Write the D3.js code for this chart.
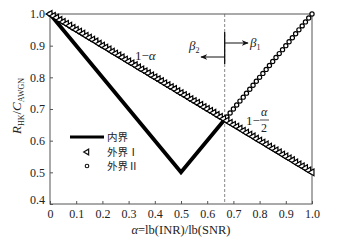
<!DOCTYPE html>
<html><head><meta charset="utf-8">
<script src="https://cdn.jsdelivr.net/npm/d3@7"></script>
<style>body{margin:0;background:#fff}svg{display:block}</style>
</head><body>
<svg id="c" width="341" height="243"></svg>
<script>
// ---- data ----
const alpha = [0,0.0125,0.025,0.0375,0.05,0.0625,0.075,0.0875,0.1,0.1125,0.125,0.1375,0.15,0.1625,0.175,0.1875,0.2,0.2125,0.225,0.2375,0.25,0.2625,0.275,0.2875,0.3,0.3125,0.325,0.3375,0.35,0.3625,0.375,0.3875,0.4,0.4125,0.425,0.4375,0.45,0.4625,0.475,0.4875,0.5,0.5125,0.525,0.5375,0.55,0.5625,0.575,0.5875,0.6,0.6125,0.625,0.6375,0.65,0.6625,0.675,0.6875,0.7,0.7125,0.725,0.7375,0.75,0.7625,0.775,0.7875,0.8,0.8125,0.825,0.8375,0.85,0.8625,0.875,0.8875,0.9,0.9125,0.925,0.9375,0.95,0.9625,0.975,0.9875,1];
const outerI = [1,0.994,0.988,0.981,0.975,0.969,0.963,0.956,0.95,0.944,0.938,0.931,0.925,0.919,0.913,0.906,0.9,0.894,0.888,0.881,0.875,0.869,0.863,0.856,0.85,0.844,0.838,0.831,0.825,0.819,0.813,0.806,0.8,0.794,0.788,0.781,0.775,0.769,0.763,0.756,0.75,0.744,0.738,0.731,0.725,0.719,0.713,0.706,0.7,0.694,0.688,0.681,0.675,0.669,0.663,0.656,0.65,0.644,0.638,0.631,0.625,0.619,0.613,0.606,0.6,0.594,0.588,0.581,0.575,0.569,0.563,0.556,0.55,0.544,0.538,0.531,0.525,0.519,0.513,0.506,0.5];
const outerII = [1,0.994,0.988,0.981,0.975,0.969,0.963,0.956,0.95,0.944,0.938,0.931,0.925,0.919,0.913,0.906,0.9,0.894,0.888,0.881,0.875,0.869,0.863,0.856,0.85,0.844,0.838,0.831,0.825,0.819,0.813,0.806,0.8,0.794,0.788,0.781,0.775,0.769,0.763,0.756,0.75,0.744,0.738,0.731,0.725,0.719,0.713,0.706,0.7,0.694,0.688,0.681,0.675,0.669,0.675,0.6875,0.7,0.7125,0.725,0.7375,0.75,0.7625,0.775,0.7875,0.8,0.8125,0.825,0.8375,0.85,0.8625,0.875,0.8875,0.9,0.9125,0.925,0.9375,0.95,0.9625,0.975,0.9875,1];
const innerAlpha = [0, 0.5, 0.6667, 1];
const innerVal   = [1, 0.5, 0.6667, 0.5];
const boundaryAlpha = 0.6667;
const xTicks = [0,0.1,0.2,0.3,0.4,0.5,0.6,0.7,0.8,0.9,1.0];
const xTickLabels = ["0","0.1","0.2","0.3","0.4","0.5","0.6","0.7","0.8","0.9","1.0"];
const yTicks = [0.4,0.5,0.6,0.7,0.8,0.9,1.0];
const yTickLabels = ["0.4","0.5","0.6","0.7","0.8","0.9","1.0"];
const legendNames = ["内界","外界Ⅰ","外界Ⅱ"];

// ---- drawing ----
const svg = d3.select("#c");
const serif = "'Liberation Serif','Times New Roman',serif";
const cjk = "'Noto Sans CJK SC','Liberation Serif',serif";
const x = d3.scaleLinear().domain([0,1]).range([50,312]);
const y = d3.scaleLinear().domain([0.4,1]).range([204,14]);

// dashed boundary
svg.append("line").attr("x1",x(boundaryAlpha)).attr("x2",x(boundaryAlpha))
  .attr("y1",y(1)).attr("y2",y(0.4)).attr("stroke","#888").attr("stroke-width",1)
  .attr("stroke-dasharray","3,2");

// axes
const xAxis = svg.append("g").attr("transform","translate(0,204)")
  .call(d3.axisBottom(x).tickValues(xTicks).tickSize(-3).tickPadding(7)
    .tickFormat((d,i)=>xTickLabels[i]));
const yAxis = svg.append("g").attr("transform","translate(50,0)")
  .call(d3.axisLeft(y).tickValues(yTicks).tickSize(-3).tickPadding(5)
    .tickFormat((d,i)=>yTickLabels[i]));
[xAxis,yAxis].forEach(g=>{
  g.select(".domain").remove();
  g.selectAll("line").attr("stroke","#555");
  g.selectAll("text").attr("font-family",serif).attr("font-size",12).attr("fill","#222");
});
xAxis.selectAll("text").attr("dy","0.55em");
yAxis.selectAll(".tick").filter(d=>d===0.4).select("text").attr("dy","-0.05em");

// frame
svg.append("rect").attr("x",50).attr("y",14).attr("width",262).attr("height",190)
  .attr("fill","none").attr("stroke","#555").attr("stroke-width",1);

// outer II circles
const ptsII = alpha.map((a,i)=>[a,outerII[i]]);
svg.append("g").selectAll("circle").data(ptsII).join("circle")
  .attr("cx",d=>x(d[0])).attr("cy",d=>y(d[1])).attr("r",2.1)
  .attr("fill","#fff").attr("stroke","#000").attr("stroke-width",1.2);

// inner bound
const innerPts = innerAlpha.map((a,i)=>[a,innerVal[i]]);
svg.append("path").datum(innerPts)
  .attr("d",d3.line().x(d=>x(d[0])).y(d=>y(d[1])))
  .attr("fill","none").attr("stroke","#000").attr("stroke-width",3.8).attr("stroke-linejoin","miter");

// outer I triangles (pointing left)
const tri = d3.symbol().type(d3.symbolTriangle).size(20);
const ptsI = alpha.map((a,i)=>[a,outerI[i]]);
svg.append("g").selectAll("path").data(ptsI).join("path")
  .attr("d",tri).attr("transform",d=>`translate(${x(d[0])},${y(d[1])}) rotate(-90)`)
  .attr("fill","#fff").attr("stroke","#000").attr("stroke-width",1.2);

// legend
const tri2 = d3.symbol().type(d3.symbolTriangle).size(14);
const lg = svg.append("g");
lg.append("line").attr("x1",70).attr("x2",104).attr("y1",137).attr("y2",137)
  .attr("stroke","#000").attr("stroke-width",3);
lg.append("path").attr("d",tri2).attr("transform","translate(87,152) rotate(-90)")
  .attr("fill","#fff").attr("stroke","#111").attr("stroke-width",1.2);
lg.append("circle").attr("cx",87).attr("cy",166).attr("r",1.8)
  .attr("fill","#fff").attr("stroke","#111").attr("stroke-width",1.1);
[137,152,166].forEach((yy,i)=>{
  lg.append("text").attr("x",107).attr("y",yy).attr("dy","0.36em")
    .attr("font-family",cjk).attr("font-size",10.5).attr("fill","#222").text(legendNames[i]);
});

// annotations
function mathText(xx,yy,parts,size){
  const t = svg.append("text").attr("x",xx).attr("y",yy).attr("font-family",serif)
    .attr("font-size",size||13).attr("fill","#222");
  parts.forEach(p=>{
    const s = t.append("tspan").text(p.t);
    if(p.i) s.attr("font-style","italic");
    if(p.dy) s.attr("dy",p.dy);
    if(p.fs) s.attr("font-size",p.fs);
  });
  return t;
}
mathText(135,60,[{t:"1−"},{t:"α",i:1}]);
mathText(246,125,[{t:"1−"}]);
mathText(261,116,[{t:"α",i:1}],12);
svg.append("line").attr("x1",260).attr("x2",269).attr("y1",120).attr("y2",120).attr("stroke","#222").attr("stroke-width",0.8);
mathText(261,132,[{t:"2"}],12);
mathText(189,50,[{t:"β",i:1},{t:"2",dy:3,fs:8}]);
mathText(250,47,[{t:"β",i:1},{t:"1",dy:3,fs:8}]);

// arrows
const defs = svg.append("defs");
defs.append("marker").attr("id","ah").attr("viewBox","0 0 10 10").attr("refX",9).attr("refY",5)
  .attr("markerWidth",7).attr("markerHeight",7).attr("orient","auto-start-reverse")
  .append("path").attr("d","M0,1 L10,5 L0,9 L3,5 Z").attr("fill","#111");
const bx = x(boundaryAlpha);
svg.append("line").attr("x1",bx).attr("x2",bx).attr("y1",32).attr("y2",64).attr("stroke","#111").attr("stroke-width",1.3);
svg.append("line").attr("x1",bx).attr("x2",248).attr("y1",43).attr("y2",43).attr("stroke","#111").attr("stroke-width",1).attr("marker-end","url(#ah)");
svg.append("line").attr("x1",bx).attr("x2",201).attr("y1",57).attr("y2",57).attr("stroke","#111").attr("stroke-width",1).attr("marker-end","url(#ah)");

// axis titles
const yt = svg.append("text").attr("transform","translate(21,106) rotate(-90)")
  .attr("text-anchor","middle").attr("font-family",serif).attr("font-size",13).attr("fill","#222");
yt.append("tspan").attr("font-style","italic").text("R");
yt.append("tspan").attr("font-size",8).attr("dy",3).text("HK");
yt.append("tspan").attr("dy",-3).text("/");
yt.append("tspan").attr("font-style","italic").text("C");
yt.append("tspan").attr("font-size",8).attr("dy",3).text("AWGN");

const xt = svg.append("text").attr("x",181).attr("y",234).attr("text-anchor","middle")
  .attr("font-family",serif).attr("font-size",12.5).attr("fill","#222");
xt.append("tspan").attr("font-style","italic").text("α");
xt.append("tspan").text("=lb(INR)/lb(SNR)");
</script>
</body></html>
